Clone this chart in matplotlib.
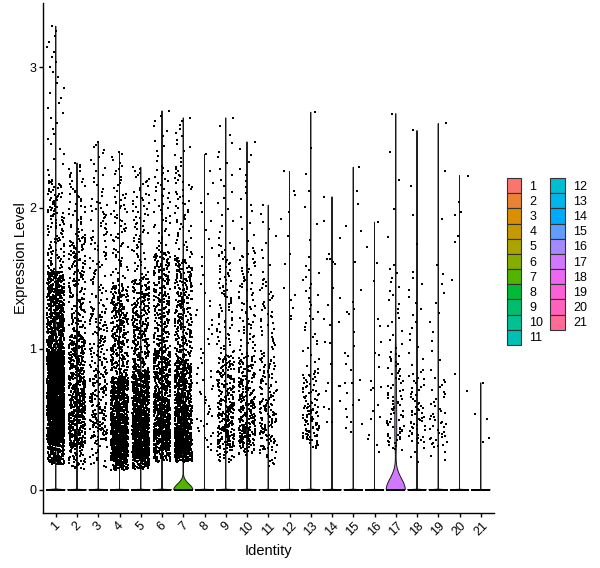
import numpy as np
import matplotlib
matplotlib.use("Agg")
import matplotlib.pyplot as plt
from matplotlib.patches import Patch

# cluster identities
clusters = [str(i) for i in range(1, 22)]

# expressing cells: quantiles (dense clusters)
probs = [0, 0.05, 0.25, 0.5, 0.75, 0.95, 0.99, 1.0]
quantiles = {
    "1": [0.18, 0.33, 0.52, 0.72, 0.98, 1.55, 2.2, 3.29],
    "2": [0.15, 0.30, 0.50, 0.75, 1.10, 1.80, 2.2, 2.32],
    "3": [0.16, 0.35, 0.55, 0.85, 1.30, 2.05, 2.4, 2.47],
    "4": [0.14, 0.22, 0.34, 0.52, 0.80, 1.45, 2.1, 2.40],
    "5": [0.15, 0.22, 0.36, 0.56, 0.85, 1.50, 2.1, 2.29],
    "6": [0.20, 0.28, 0.42, 0.65, 1.00, 1.70, 2.3, 2.69],
    "7": [0.20, 0.25, 0.37, 0.58, 0.92, 1.65, 2.3, 2.64],
    "8": [0.28, 0.35, 0.55, 0.85, 1.35, 2.10, 2.3, 2.38],
    "9": [0.20, 0.30, 0.45, 0.65, 0.95, 1.75, 2.4, 2.64],
    "10": [0.25, 0.32, 0.45, 0.65, 0.95, 1.70, 2.3, 2.47],
    "11": [0.17, 0.28, 0.45, 0.65, 0.95, 1.50, 1.9, 2.02],
    "13": [0.30, 0.35, 0.45, 0.60, 0.85, 1.60, 2.3, 2.68],
    "17": [0.28, 0.33, 0.47, 0.68, 0.98, 1.60, 2.4, 2.67],
    "18": [0.20, 0.33, 0.45, 0.60, 0.85, 1.55, 2.2, 2.55],
    "19": [0.21, 0.30, 0.40, 0.55, 0.80, 1.60, 2.4, 2.60],
}
n_pos = {"1": 3000, "2": 850, "3": 350, "4": 1500, "5": 1400, "6": 1100,
         "7": 1300, "8": 60, "9": 400, "10": 350, "11": 200, "13": 150,
         "17": 100, "18": 80, "19": 60}

# expressing cells: single values (sparse clusters)
values = {
    "12": [2.26, 2.12, 2.09, 1.97, 1.92, 1.80, 1.67, 1.60, 1.43, 1.38, 1.35,
           1.29, 1.23, 1.21],
    "14": [2.08, 1.91, 1.79, 1.67, 1.64, 1.64, 1.62, 1.60, 1.43, 1.36, 1.31,
           1.21, 1.19, 1.17, 1.05, 1.04, 0.89, 0.76, 0.74, 0.74, 0.70, 0.63,
           0.59, 0.57, 0.48, 0.48],
    "15": [2.29, 2.12, 2.03, 1.87, 1.84, 1.62, 1.42, 1.33, 1.28, 1.26, 1.25,
           1.12, 1.02, 0.97, 0.95, 0.89, 0.85, 0.78, 0.76, 0.76, 0.69, 0.64,
           0.60, 0.57, 0.52, 0.48, 0.47, 0.44, 0.41],
    "16": [1.90, 1.72, 1.61, 1.48, 1.21, 1.16, 1.05, 0.97, 0.96, 0.87, 0.77,
           0.73, 0.72, 0.71, 0.60, 0.56, 0.52, 0.50, 0.39, 0.36, 0.32, 0.27],
    "20": [2.23, 2.04, 1.97, 1.95, 1.80, 1.76, 1.49, 0.82, 0.70],
    "21": [0.76, 0.54, 0.50, 0.37, 0.34],
}

# cells with zero expression per cluster
n_zero = [12000, 4000, 2500, 6000, 6000, 5000, 3000, 1500, 2000, 2000, 1500,
          1200, 1000, 800, 800, 700, 250, 600, 500, 400, 200]


def hcl_hex(h, c=100.0, l=65.0):
    # polar Luv -> sRGB, same as R's hcl()
    hr = np.deg2rad(h)
    U, V = c * np.cos(hr), c * np.sin(hr)
    Xn, Yn, Zn = 95.047, 100.0, 108.883
    un = 4 * Xn / (Xn + 15 * Yn + 3 * Zn)
    vn = 9 * Yn / (Xn + 15 * Yn + 3 * Zn)
    Y = Yn * ((l + 16) / 116) ** 3
    u = U / (13 * l) + un
    v = V / (13 * l) + vn
    X = 9 * Y * u / (4 * v)
    Z = -X / 3 - 5 * Y + 3 * Y / v
    X, Y, Z = X / 100, Y / 100, Z / 100
    rgb = np.array([3.240479 * X - 1.537150 * Y - 0.498535 * Z,
                    -0.969256 * X + 1.875992 * Y + 0.041556 * Z,
                    0.055648 * X - 0.204043 * Y + 1.057311 * Z])
    rgb = np.where(rgb > 0.0031308, 1.055 * np.abs(rgb) ** (1 / 2.4) - 0.055, 12.92 * rgb)
    return tuple(np.clip(rgb, 0, 1))


def bw_nrd0(x):
    sd = np.std(x, ddof=1)
    iqr = np.subtract(*np.percentile(x, [75, 25]))
    lo = min(sd, iqr / 1.34)
    if lo <= 0:
        lo = 1e-5  # Seurat adds tiny noise, so the bandwidth collapses
    return 0.9 * lo * len(x) ** -0.2


def main():
    n = len(clusters)
    hues = np.linspace(15, 375, n + 1)[:-1]
    colors = [hcl_hex(h) for h in hues]

    fig = plt.figure(figsize=(6, 5.68), dpi=100)
    ax = fig.add_axes([43 / 600, 55 / 568, 450.5 / 600, 510 / 568])
    rng = np.random.default_rng(3)  # horizontal jitter only

    ymax = 0
    for i, cl in enumerate(clusters):
        if cl in quantiles:
            pos = np.interp(np.linspace(0, 1, n_pos[cl]), probs, quantiles[cl])
        else:
            pos = np.array(values[cl])
        data = np.concatenate([np.zeros(n_zero[i]), pos])
        ymax = max(ymax, data.max())

        # violin (trimmed, scaled to equal width)
        bw = bw_nrd0(data)
        grid = np.linspace(0, data.max(), 512)
        pts = np.concatenate([[0.0], pos])
        w = np.concatenate([[n_zero[i]], np.ones(len(pos))])
        dens = (w * np.exp(-0.5 * ((grid[:, None] - pts[None, :]) / bw) ** 2)).sum(1)
        vw = dens / dens.max() * 0.45
        xs = np.concatenate([i + 1 - vw, (i + 1 + vw)[::-1]])
        ys = np.concatenate([grid, grid[::-1]])
        ax.fill(xs, ys, facecolor=colors[i], edgecolor="#1a1a1a", linewidth=0.7, zorder=1)

        # jittered cells
        jx = i + 1 + rng.uniform(-0.4, 0.4, len(data))
        ax.scatter(jx, data, s=2.5, c="black", marker="s", linewidths=0, zorder=2)

    span = ymax
    ax.set_ylim(-0.05 * span, ymax + 0.05 * span)
    ax.set_xlim(0.4, n + 0.6)
    ax.set_xticks(range(1, n + 1))
    ax.set_xticklabels(clusters, rotation=45, ha="center", va="top")
    ax.set_yticks([0, 1, 2, 3])
    for s in ["top", "right"]:
        ax.spines[s].set_visible(False)
    for s in ["left", "bottom"]:
        ax.spines[s].set_linewidth(1.0)
    ax.tick_params(length=3, width=1.0, labelsize=9, pad=2, colors="black")
    ax.set_xlabel("Identity", fontsize=10.5, labelpad=4)
    ax.set_ylabel("Expression Level", fontsize=10.5, labelpad=1)

    handles = [Patch(facecolor=colors[i], edgecolor="#333333", linewidth=0.8)
               for i in range(n)]
    fig.legend(handles, clusters, loc="center left",
               bbox_to_anchor=(507 / 600, 1 - 261.5 / 568), ncol=2, frameon=False,
               fontsize=9, handlelength=1.15, handleheight=1.49, labelspacing=0,
               handletextpad=0.65, columnspacing=0.55, borderpad=0, borderaxespad=0)

    plt.savefig("out.png", dpi=100)
    plt.close()


if __name__ == "__main__":
    plt.rcParams["font.family"] = ["Liberation Sans", "DejaVu Sans"]
    main()
